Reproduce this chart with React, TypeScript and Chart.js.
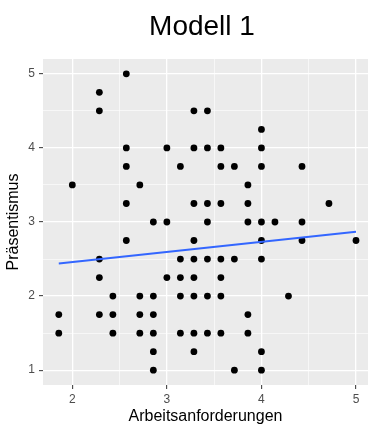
import { useEffect, useRef } from "react";
import { Chart, registerables } from "chart.js";

Chart.register(...registerables);

const chartTitle = "Modell 1";
const xTitle = "Arbeitsanforderungen";
const yTitle = "Präsentismus";

// Scatter points (x = Arbeitsanforderungen, y = Präsentismus)
const arbeitsanforderungen = [
  1.857, 1.857,
  2.0,
  2.286, 2.286, 2.286, 2.286, 2.286,
  2.429, 2.429, 2.429,
  2.571, 2.571, 2.571, 2.571, 2.571,
  2.714, 2.714, 2.714, 2.714,
  2.857, 2.857, 2.857, 2.857, 2.857, 2.857,
  3.0, 3.0, 3.0,
  3.143, 3.143, 3.143, 3.143, 3.143,
  3.286, 3.286, 3.286, 3.286, 3.286, 3.286, 3.286, 3.286, 3.286,
  3.429, 3.429, 3.429, 3.429, 3.429, 3.429, 3.429,
  3.571, 3.571, 3.571, 3.571, 3.571, 3.571, 3.571,
  3.714, 3.714, 3.714,
  3.857, 3.857, 3.857, 3.857, 3.857,
  4.0, 4.0, 4.0, 4.0, 4.0, 4.0, 4.0, 4.0,
  4.143,
  4.286,
  4.429, 4.429, 4.429,
  4.714,
  5.0,
];
const praesentismus = [
  1.75, 1.5,
  3.5,
  4.75, 4.5, 2.5, 2.25, 1.75,
  2.0, 1.75, 1.5,
  5.0, 4.0, 3.75, 3.25, 2.75,
  3.5, 2.0, 1.75, 1.5,
  3.0, 2.0, 1.75, 1.5, 1.25, 1.0,
  4.0, 3.0, 2.25,
  3.75, 2.5, 2.25, 2.0, 1.5,
  4.5, 4.0, 3.25, 2.75, 2.5, 2.25, 2.0, 1.5, 1.25,
  4.5, 4.0, 3.25, 3.0, 2.5, 2.0, 1.5,
  4.0, 3.75, 3.25, 2.5, 2.25, 2.0, 1.5,
  3.75, 2.5, 1.0,
  3.5, 3.25, 3.0, 1.75, 1.5,
  4.25, 4.0, 3.75, 3.0, 2.75, 2.5, 1.25, 1.0,
  3.0,
  2.0,
  3.75, 3.0, 2.75,
  3.25,
  2.75,
];

// Fitted linear trend
const fitX = [1.857, 5.0];
const fitY = [2.44, 2.87];

const xTicks = [2, 2.5, 3, 3.5, 4, 4.5, 5];
const yTicks = [1, 1.5, 2, 2.5, 3, 3.5, 4, 4.5, 5];

const FONT = "'Liberation Sans', Arial, Helvetica, sans-serif";

const ggPlugin = {
  id: "ggDecor",
  beforeDraw(chart: any) {
    const { ctx, chartArea } = chart;
    ctx.save();
    ctx.fillStyle = "#EBEBEB";
    ctx.fillRect(chartArea.left, chartArea.top, chartArea.right - chartArea.left, chartArea.bottom - chartArea.top);
    ctx.restore();
  },
  afterDraw(chart: any) {
    const { ctx } = chart;
    ctx.save();
    ctx.fillStyle = "#000000";
    ctx.font = `28px ${FONT}`;
    ctx.textAlign = "center";
    ctx.textBaseline = "alphabetic";
    ctx.fillText(chartTitle, 202, 35);
    ctx.restore();
  },
};

const isMajor = (v: number) => Number.isInteger(v);

export default function App() {
  const ref = useRef<HTMLCanvasElement | null>(null);

  useEffect(() => {
    if (!ref.current) return;
    const points = arbeitsanforderungen.map((x, i) => ({ x, y: praesentismus[i] }));
    const fit = fitX.map((x, i) => ({ x, y: fitY[i] }));

    const gridCommon = {
      color: "#FFFFFF",
      lineWidth: (c: any) => (c.tick && isMajor(c.tick.value) ? 1.3 : 0.6),
      tickColor: (c: any) => (c.tick && isMajor(c.tick.value) ? "#333333" : "rgba(0,0,0,0)"),
      tickWidth: 1,
      tickLength: 4,
      drawOnChartArea: true,
      drawTicks: true,
    };

    const chart = new Chart(ref.current, {
      type: "scatter",
      data: {
        datasets: [
          {
            type: "line",
            data: fit,
            borderColor: "#3366FF",
            borderWidth: 2,
            pointRadius: 0,
            fill: false,
            order: 0,
          } as any,
          {
            data: points,
            backgroundColor: "#000000",
            borderWidth: 0,
            pointRadius: 3.4,
            pointHoverRadius: 3.4,
            order: 1,
          },
        ],
      },
      plugins: [ggPlugin],
      options: {
        animation: false,
        responsive: false,
        events: [],
        layout: { autoPadding: false, padding: { top: 59, left: 0, right: 0, bottom: 0 } },
        plugins: {
          legend: { display: false },
          title: { display: false },
          tooltip: { enabled: false },
        },
        scales: {
          x: {
            type: "linear",
            min: 1.69,
            max: 5.127,
            afterBuildTicks: (s: any) => {
              s.ticks = xTicks.map((v) => ({ value: v }));
            },
            afterFit: (s: any) => {
              s.height = 40;
              s.paddingRight = 0;
              s.paddingLeft = 0;
            },
            border: { display: false },
            grid: gridCommon as any,
            ticks: {
              color: "#4D4D4D",
              font: { family: FONT, size: 12 },
              padding: 3,
              maxRotation: 0,
              autoSkip: false,
              callback: (v: any) => (isMajor(Number(v)) ? String(v) : ""),
            },
            title: {
              display: true,
              text: xTitle,
              color: "#000000",
              font: { family: FONT, size: 16, lineHeight: 1 },
              padding: 0,
            },
          },
          y: {
            type: "linear",
            min: 0.8,
            max: 5.2,
            afterBuildTicks: (s: any) => {
              s.ticks = yTicks.map((v) => ({ value: v }));
            },
            afterFit: (s: any) => {
              s.width = 43;
              s.paddingTop = 0;
              s.paddingBottom = 0;
            },
            border: { display: false },
            grid: gridCommon as any,
            ticks: {
              color: "#4D4D4D",
              font: { family: FONT, size: 12 },
              padding: 4,
              autoSkip: false,
              callback: (v: any) => (isMajor(Number(v)) ? String(v) : ""),
            },
            title: {
              display: true,
              text: yTitle,
              color: "#000000",
              font: { family: FONT, size: 16, lineHeight: 1 },
              padding: { top: 6, bottom: 0 },
            },
          },
        },
      },
    });
    return () => chart.destroy();
  }, []);

  return (
    <div style={{ position: "fixed", left: 0, top: 0, width: 368, height: 425, background: "#FFFFFF" }}>
      <canvas ref={ref} width={368} height={425} style={{ display: "block", width: 368, height: 425 }} />
    </div>
  );
}
